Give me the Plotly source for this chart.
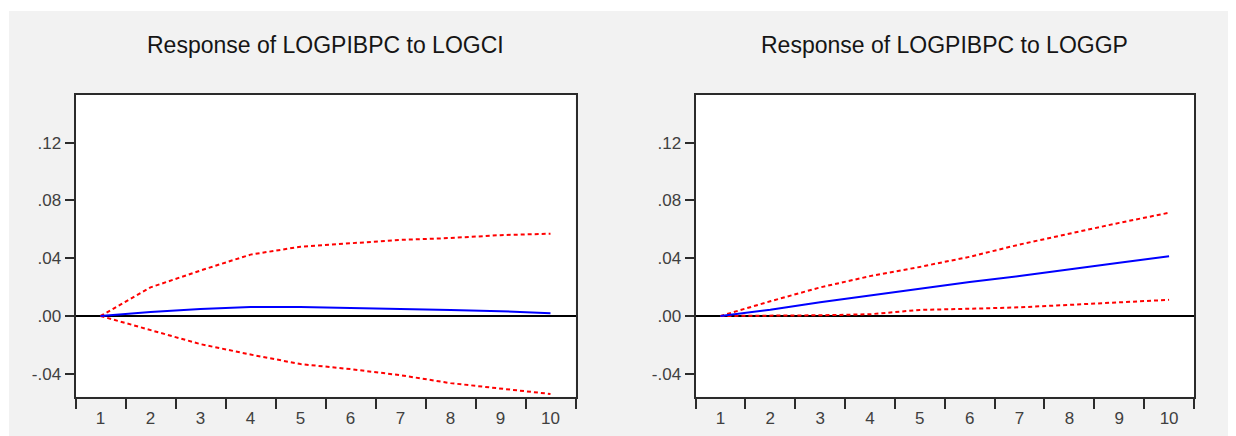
import plotly.graph_objects as go

W, H = 1236, 436

periods = ["1", "2", "3", "4", "5", "6", "7", "8", "9", "10"]

# Response of LOGPIBPC to LOGCI
ci_resp = [0.0, 0.0028, 0.0048, 0.0062, 0.0063, 0.0057, 0.0050, 0.0042, 0.0033, 0.0019]
ci_upper = [0.0, 0.0198, 0.0315, 0.0425, 0.0480, 0.0505, 0.0527, 0.0540, 0.0560, 0.0570]
ci_lower = [0.0, -0.0095, -0.0195, -0.0267, -0.0333, -0.0368, -0.0410, -0.0465, -0.0500, -0.0540]

# Response of LOGPIBPC to LOGGP
gp_resp = [0.0, 0.0043, 0.0095, 0.0143, 0.0190, 0.0236, 0.0277, 0.0320, 0.0368, 0.0413]
gp_upper = [0.0, 0.0102, 0.0198, 0.0276, 0.0340, 0.0410, 0.0495, 0.0572, 0.0645, 0.0715]
gp_lower = [0.0, 0.0002, 0.0005, 0.0012, 0.0042, 0.0050, 0.0060, 0.0077, 0.0095, 0.0112]

titles = ["Response of LOGPIBPC to LOGCI", "Response of LOGPIBPC to LOGGP"]
ytick_vals = [-0.04, 0.0, 0.04, 0.08, 0.12]
ytick_text = ["-.04", ".00", ".04", ".08", ".12"]

BLUE = "#0000ff"
RED = "#ff0000"
AXC = "#2b2b2b"
FONT = "Liberation Sans, Arial, sans-serif"

# pixel geometry of the two boxes (figure-local; page body adds an 8px offset)
boxes_x = [(67.5, 567.5), (687.5, 1186.0)]
box_top, box_bot = 86.5, 388.7
ydom = [(H - box_bot) / H, (H - box_top) / H]
yrange = [-0.0559, 0.1534]

fig = go.Figure()

panels = [(ci_resp, ci_upper, ci_lower), (gp_resp, gp_upper, gp_lower)]
for i, (resp, up, lo) in enumerate(panels):
    xa = "x" if i == 0 else "x2"
    ya = "y" if i == 0 else "y2"
    for vals in (up, lo):
        fig.add_trace(go.Scatter(x=periods, y=vals, mode="lines", xaxis=xa, yaxis=ya,
                                 line=dict(color=RED, width=2, dash="4px,3px"),
                                 showlegend=False, hoverinfo="skip"))
    fig.add_trace(go.Scatter(x=periods, y=resp, mode="lines", xaxis=xa, yaxis=ya,
                             line=dict(color=BLUE, width=2),
                             showlegend=False, hoverinfo="skip"))

axis_common_x = dict(
    type="category", categoryorder="array", categoryarray=periods,
    range=[-0.5, 9.5], tickson="boundaries", ticks="outside", ticklen=10,
    tickwidth=2, tickcolor=AXC, showgrid=False, zeroline=False,
    showline=True, linecolor=AXC, linewidth=2, mirror=True, ticklabelstandoff=5,
    tickfont=dict(family=FONT, size=17, color="#404040"), fixedrange=True,
)
axis_common_y = dict(
    range=yrange, tickmode="array", tickvals=ytick_vals, ticktext=ytick_text,
    ticks="outside", ticklen=9, tickwidth=2, tickcolor=AXC, showgrid=False,
    zeroline=True, zerolinecolor="#000000", zerolinewidth=1.6,
    showline=True, linecolor=AXC, linewidth=2, mirror=True,
    tickfont=dict(family=FONT, size=17, color="#404040"), fixedrange=True,
)

fig.update_layout(
    width=W, height=H,
    margin=dict(l=0, r=0, t=0, b=0, pad=0),
    paper_bgcolor="#f2f2f2", plot_bgcolor="#ffffff",
    xaxis=dict(domain=[boxes_x[0][0] / W, boxes_x[0][1] / W], anchor="y", **axis_common_x),
    yaxis=dict(domain=ydom, anchor="x", **axis_common_y),
    xaxis2=dict(domain=[boxes_x[1][0] / W, boxes_x[1][1] / W], anchor="y2", **axis_common_x),
    yaxis2=dict(domain=ydom, anchor="x2", **axis_common_y),
    showlegend=False,
)

# thin white strips to match the reference's slightly wider page border
fig.add_shape(type="rect", xref="paper", yref="paper", x0=0, x1=1 / W, y0=0, y1=1,
              fillcolor="#ffffff", line=dict(width=0), layer="below")
fig.add_shape(type="rect", xref="paper", yref="paper", x0=0, x1=1, y0=(H - 3) / H, y1=1,
              fillcolor="#ffffff", line=dict(width=0), layer="below")

for i, t in enumerate(titles):
    cx = (boxes_x[i][0] + boxes_x[i][1]) / 2 / W
    fig.add_annotation(text=t, xref="paper", yref="paper", x=cx, y=(H - 37.5) / H,
                       xanchor="center", yanchor="middle", showarrow=False,
                       font=dict(family=FONT, size=23, color="#151515"))

fig.write_html("out.html")
